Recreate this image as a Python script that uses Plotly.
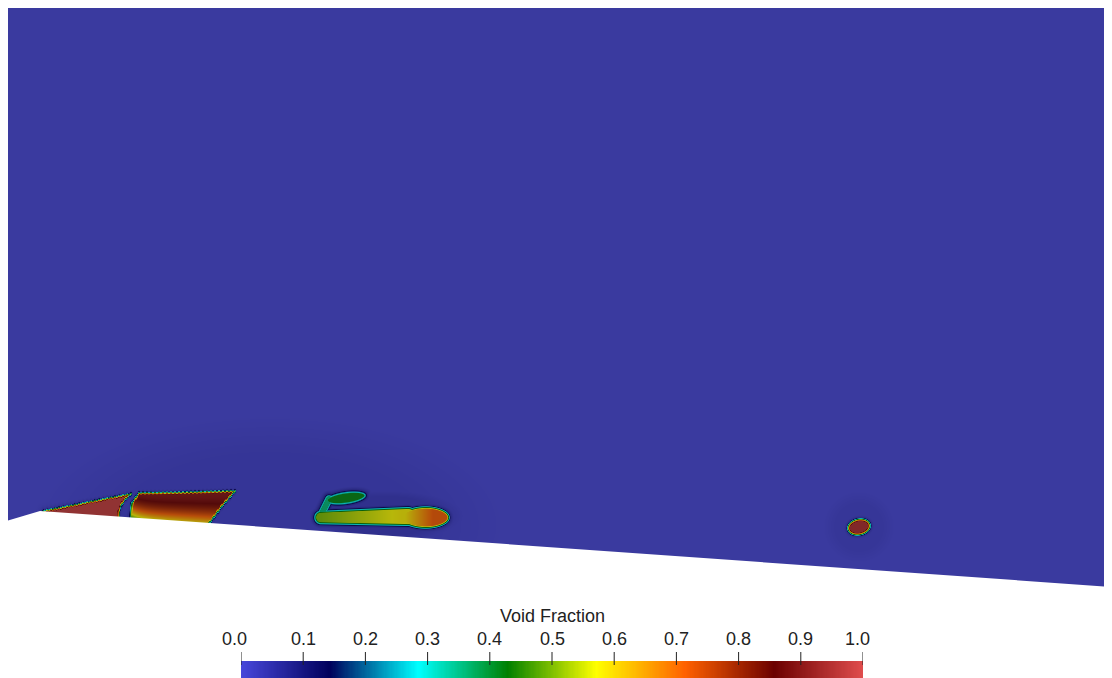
import numpy as np
import plotly.graph_objects as go

W, H = 1112, 678
PAGE_OFFSET = 8          # default body margin of the html page
FIG_W, FIG_H = W - PAGE_OFFSET, H - PAGE_OFFSET

# ---- colour map: ParaView "Rainbow Desaturated" ----
cmap_pos = [0.0, 0.143, 0.285, 0.429, 0.571, 0.714, 0.857, 1.0]
cmap_rgb = [(71, 71, 219), (0, 0, 92), (0, 255, 255), (0, 128, 0),
            (255, 255, 0), (255, 97, 0), (107, 0, 0), (224, 77, 77)]
SHADE_GAIN, SHADE_OFFSET = 0.68, 10   # surface lighting in the render

colorbar_ticks = [0.0, 0.1, 0.2, 0.3, 0.4, 0.5, 0.6, 0.7, 0.8, 0.9, 1.0]
colorbar_ticktext = ["0.0", "0.1", "0.2", "0.3", "0.4", "0.5",
                     "0.6", "0.7", "0.8", "0.9", "1.0"]
colorbar_title = "Void Fraction"

# ---- domain geometry (screen pixels) ----
domain_left, domain_top = 6, 7
wall_x = [6, 40, 1112]
wall_y = [521, 511, 587]

# ---- bubble descriptions (screen pixels, void fraction values) ----
blobA_poly = [(44, 511), (70, 506), (100, 500), (131, 494), (126, 498),
              (121, 505), (119, 512), (118, 535), (44, 535)]
blobA_value = 0.97
blobB_poly = [(139, 493), (180, 492.5), (235, 491), (222, 506), (209, 524),
              (209, 540), (130, 540), (130, 515), (132, 503)]
blobB_top, blobB_peak, blobB_drop = 492, 0.89, 0.29
blobC_head = dict(cx=425, cy=517.5, a=24, b=10.5, rot=0, v0=0.58, v1=0.72)
blobC_handle = dict(x0=321, y0=517.5, r0=6.5, x1=408, y1=516.5, r1=9, v0=0.5, v1=0.58)
blobC_hook = dict(cx=346, cy=498, a=20, b=6, rot=-8, v=0.42)
blobC_stem = dict(x0=322, y0=513, x1=329, y1=499, r=4, v=0.36)
blobD = dict(cx=859, cy=527, a=11, b=7.5, rot=-12, v=0.94)
halos = [dict(cx=270, cy=525, a=235, b=110, v=0.014),
         dict(cx=385, cy=516, a=85, b=30, v=0.03),
         dict(cx=859, cy=527, a=36, b=36, v=0.012)]


def shade(c):
    return tuple(int(round(ch * SHADE_GAIN + SHADE_OFFSET)) for ch in c)


def rgb(c):
    return "rgb(%d,%d,%d)" % c


def px_to_paper_x(sx):
    return (sx - PAGE_OFFSET) / FIG_W


def px_to_paper_y(sy):
    return (H - sy) / FIG_H


field_scale = [[p, rgb(shade(c))] for p, c in zip(cmap_pos, cmap_rgb)]
bar_scale = [[p, rgb(c)] for p, c in zip(cmap_pos, cmap_rgb)]

# ---- grid ----
xs = np.arange(domain_left + 0.5, W, 1.0)
ys = np.arange(400.5, 600, 1.0)
X, Y = np.meshgrid(xs, ys)


def seg_dist(ax, ay, bx, by):
    vx, vy = bx - ax, by - ay
    t = np.clip(((X - ax) * vx + (Y - ay) * vy) / (vx * vx + vy * vy), 0, 1)
    return np.hypot(X - ax - t * vx, Y - ay - t * vy), t


def poly_sdf(pts):
    d = np.full(X.shape, np.inf)
    inside = np.zeros(X.shape, bool)
    n = len(pts)
    with np.errstate(divide="ignore", invalid="ignore"):
        for i in range(n):
            ax, ay = pts[i]
            bx, by = pts[(i + 1) % n]
            d = np.minimum(d, seg_dist(ax, ay, bx, by)[0])
            cond = ((ay > Y) != (by > Y)) & (X < (bx - ax) * (Y - ay) / (by - ay) + ax)
            inside ^= cond
    return np.where(inside, -d, d)


def ell_sdf(cx, cy, a, b, rot=0):
    th = np.radians(rot)
    dx, dy = X - cx, Y - cy
    u = dx * np.cos(th) + dy * np.sin(th)
    v = -dx * np.sin(th) + dy * np.cos(th)
    r = np.sqrt((u / a) ** 2 + (v / b) ** 2) + 1e-9
    g = np.sqrt((u / a ** 2) ** 2 + (v / b ** 2) ** 2) / r + 1e-9
    return (r - 1) / g, r


def capsule_sdf(x0, y0, r0, x1, y1, r1):
    d, t = seg_dist(x0, y0, x1, y1)
    return d - (r0 + (r1 - r0) * t)


def ramp(d, w):
    return np.clip(0.5 - d / w, 0, 1)


def wall_at(x):
    return np.interp(x, wall_x, wall_y)


field = np.zeros(X.shape)

# faint halos
for h in halos:
    _, r = ell_sdf(h["cx"], h["cy"], h["a"], h["b"])
    field = np.maximum(field, h["v"] * np.clip((1 - r) / 0.35, 0, 1))

dash = 0.45 * np.sin(2 * np.pi * X / 4.0)

# bubble A
dA = poly_sdf(blobA_poly) + dash
field = np.maximum(field, blobA_value * ramp(dA, 3.5))
field = np.maximum(field, 0.08 * np.exp(-np.maximum(dA, 0) / 2.0))

# bubble B
dB = poly_sdf(blobB_poly) + dash
s = np.clip((Y - blobB_top) / (wall_at(X) - blobB_top), 0, 1)
vB = blobB_peak - blobB_drop * s ** 2.2 - 0.12 * np.exp(-np.maximum(X - 132, 0) / 10) * s
field = np.maximum(field, vB * ramp(dB, 3.5))
field = np.maximum(field, 0.08 * np.exp(-np.maximum(dB, 0) / 2.0))

# bubble C (head + handle + hook)
hd, _ = ell_sdf(blobC_head["cx"], blobC_head["cy"], blobC_head["a"], blobC_head["b"], blobC_head["rot"])
vH = blobC_head["v0"] + (blobC_head["v1"] - blobC_head["v0"]) * np.clip((X - 405) / 28, 0, 1)
hn = capsule_sdf(blobC_handle["x0"], blobC_handle["y0"], blobC_handle["r0"],
                 blobC_handle["x1"], blobC_handle["y1"], blobC_handle["r1"])
vN = blobC_handle["v0"] + (blobC_handle["v1"] - blobC_handle["v0"]) * np.clip((X - 321) / 80, 0, 1)
hk, _ = ell_sdf(blobC_hook["cx"], blobC_hook["cy"], blobC_hook["a"], blobC_hook["b"], blobC_hook["rot"])
st = capsule_sdf(blobC_stem["x0"], blobC_stem["y0"], blobC_stem["r"],
                 blobC_stem["x1"], blobC_stem["y1"], blobC_stem["r"])
field = np.maximum(field, vH * ramp(hd, 4.0))
field = np.maximum(field, vN * ramp(hn, 4.0))
field = np.maximum(field, blobC_hook["v"] * ramp(hk, 4.0))
field = np.maximum(field, blobC_stem["v"] * ramp(st, 3.0))
dC = np.minimum.reduce([hd, hn, hk, st])
field = np.maximum(field, 0.11 * np.exp(-np.maximum(dC, 0) / 2.5))

# bubble D
dD, _ = ell_sdf(blobD["cx"], blobD["cy"], blobD["a"], blobD["b"], blobD["rot"])
field = np.maximum(field, blobD["v"] * ramp(dD, 4.0))
field = np.maximum(field, 0.1 * np.exp(-np.maximum(dD, 0) / 2.0))

field = field.astype(np.float32)

fig = go.Figure()

fig.add_trace(go.Heatmap(
    x=xs, y=ys, z=field, colorscale=field_scale, zmin=0, zmax=1,
    showscale=False, hoverinfo="skip", zsmooth=False, xaxis="x", yaxis="y"))

# colour bar (drawn as a strip on its own axis)
bar_n = 512
bar_vals = (np.arange(bar_n) + 0.5) / bar_n
fig.add_trace(go.Heatmap(
    x=bar_vals, y=[0], z=[bar_vals], colorscale=bar_scale, zmin=0, zmax=1,
    showscale=False, hoverinfo="skip", xaxis="x2", yaxis="y2"))

bg = rgb(shade(cmap_rgb[0]))
wall_path = "M %g,%g " % (wall_x[0], wall_y[0]) + " ".join(
    "L %g,%g" % (x, y) for x, y in zip(wall_x[1:], wall_y[1:])) + " L %g,600 L %g,600 Z" % (W, wall_x[0])

BAR_X0, BAR_X1, BAR_TOP = 241, 863, 661
TICK_TOP, TICK_BOT, LABEL_Y, TITLE_Y = 652, 665, 638.5, 616
FONT = dict(family="Liberation Sans, Arial", size=18, color="#222")

shapes = [
    dict(type="rect", xref="x", yref="y", x0=domain_left, y0=domain_top, x1=W, y1=600,
         fillcolor=bg, line=dict(width=0), layer="below"),
    dict(type="path", xref="x", yref="y", path=wall_path,
         fillcolor="white", line=dict(width=0), layer="above"),
]
label_shift = {0: -7, len(colorbar_ticks) - 1: -6}
annotations = [dict(text=colorbar_title, xref="paper", yref="paper",
                    x=px_to_paper_x((BAR_X0 + BAR_X1) / 2), y=px_to_paper_y(TITLE_Y),
                    showarrow=False, xanchor="center", yanchor="middle", font=FONT)]
for i, (v, t) in enumerate(zip(colorbar_ticks, colorbar_ticktext)):
    shapes.append(dict(type="line", xref="x2", yref="paper", x0=v, x1=v,
                       y0=px_to_paper_y(TICK_TOP), y1=px_to_paper_y(TICK_BOT),
                       line=dict(color="#222", width=1), layer="above"))
    annotations.append(dict(text=t, xref="x2", yref="paper", x=v, y=px_to_paper_y(LABEL_Y),
                            xshift=label_shift.get(i, 0), showarrow=False,
                            xanchor="center", yanchor="middle", font=FONT))

fig.update_layout(
    template=go.layout.Template(),
    width=FIG_W, height=FIG_H, margin=dict(l=0, r=0, t=0, b=0, pad=0, autoexpand=False),
    paper_bgcolor="white", plot_bgcolor="white", showlegend=False,
    xaxis=dict(range=[PAGE_OFFSET, W], domain=[0, 1], visible=False, fixedrange=True,
               automargin=False),
    yaxis=dict(range=[H, PAGE_OFFSET], domain=[0, 1], visible=False, fixedrange=True,
               automargin=False),
    xaxis2=dict(range=[0, 1], domain=[px_to_paper_x(BAR_X0), px_to_paper_x(BAR_X1)],
                anchor="y2", visible=False, automargin=False, fixedrange=True),
    yaxis2=dict(range=[-0.5, 0.5], domain=[0, px_to_paper_y(BAR_TOP)], anchor="x2",
                visible=False, automargin=False, fixedrange=True),
    shapes=shapes,
    annotations=annotations,
)

fig.write_html("out.html")
